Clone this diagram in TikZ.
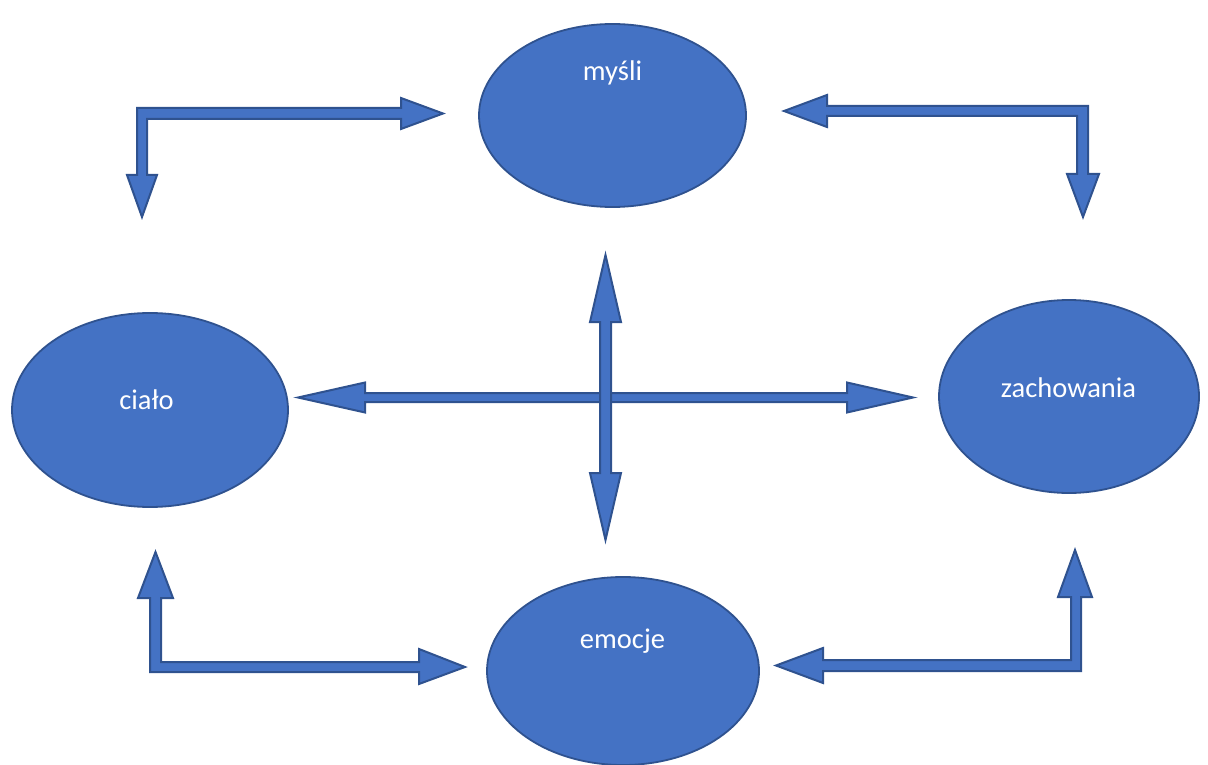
\documentclass[tikz,border=0pt]{standalone}
\usepackage{fontspec}
\setmainfont{Carlito}
\usetikzlibrary{shapes.geometric}
\definecolor{fillblue}{HTML}{4472C4}
\definecolor{lineblue}{HTML}{2F528F}
\tikzset{
  ell/.style={ellipse, fill=fillblue, draw=lineblue, line width=1.8pt, inner sep=0pt},
  lbl/.style={text=white, anchor=base, font=\fontsize{28.5pt}{34pt}\selectfont, inner sep=0pt},
  blockarrow/.style={fill=fillblue, draw=lineblue, line width=2pt, line join=miter}
}
\begin{document}
\begin{tikzpicture}[x=1pt,y=-1pt]
\useasboundingbox (0,0) rectangle (1208,765);
% ellipses
\node[ell, minimum width=267pt, minimum height=183pt] (mysli) at (612.5,115.5) {};
\node[ell, minimum width=276pt, minimum height=194pt] (cialo) at (150,410) {};
\node[ell, minimum width=260pt, minimum height=193pt] (zach) at (1069,396.5) {};
\node[ell, minimum width=272pt, minimum height=188pt] (emocje) at (623,671) {};
% labels
\node[lbl] (mysliT) at (612.5,81) {myśli};
\node[lbl] (cialoT) at (146.5,409) {ciało};
\node[lbl] (zachT) at (1068.5,397) {zachowania};
\node[lbl] (emocjeT) at (622.5,648) {emocje};
% top-left bent arrow
\draw[blockarrow] (443,113.5) -- (401,98) -- (401,108) -- (137,108) -- (137,175) -- (127,175) -- (142,217) -- (157,175) -- (147,175) -- (147,119) -- (401,119) -- (401,129) -- cycle;
% top-right bent arrow
\draw[blockarrow] (784,111) -- (827,95) -- (827,106) -- (1088,106) -- (1088,174) -- (1099,174) -- (1083,217) -- (1067,174) -- (1077,174) -- (1077,116) -- (827,116) -- (827,127) -- cycle;
% bottom-left bent arrow
\draw[blockarrow] (155.5,552) -- (173,598) -- (161,598) -- (161,662) -- (419,662) -- (419,649) -- (465,667) -- (419,684) -- (419,672) -- (150,672) -- (150,598) -- (138,598) -- cycle;
% bottom-right bent arrow
\draw[blockarrow] (1075,550) -- (1092,597) -- (1081,597) -- (1081,671) -- (823,671) -- (823,683) -- (776,665.5) -- (823,648) -- (823,660) -- (1071,660) -- (1071,597) -- (1058,597) -- cycle;
% centre horizontal double arrow
\draw[blockarrow] (298,397.5) -- (365,382.5) -- (365,393) -- (847,393) -- (847,382.5) -- (913,397.5) -- (847,412.5) -- (847,402) -- (365,402) -- (365,412.5) -- cycle;
% centre vertical double arrow
\draw[blockarrow] (605.5,255) -- (621,322) -- (611,322) -- (611,473) -- (621,473) -- (605.5,540) -- (590,473) -- (600,473) -- (600,322) -- (590,322) -- cycle;
\end{tikzpicture}
\end{document}
